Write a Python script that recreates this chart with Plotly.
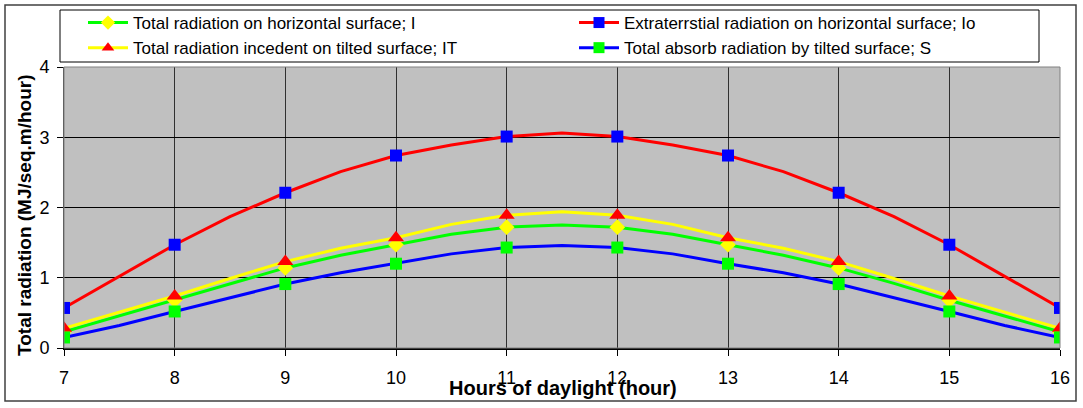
import plotly.graph_objects as go

# ---- data ----
hours = [7, 8, 9, 10, 11, 12, 13, 14, 15, 16]
half_hours = [7, 7.5, 8, 8.5, 9, 9.5, 10, 10.5, 11, 11.5, 12, 12.5, 13, 13.5, 14, 14.5, 15, 15.5, 16]

Io_pts = [0.57, 1.47, 2.21, 2.74, 3.01, 3.01, 2.74, 2.21, 1.47, 0.57]
I_pts = [0.23, 0.68, 1.14, 1.47, 1.72, 1.72, 1.47, 1.14, 0.68, 0.23]
IT_pts = [0.28, 0.74, 1.23, 1.57, 1.89, 1.89, 1.57, 1.23, 0.74, 0.28]
S_pts = [0.15, 0.52, 0.91, 1.20, 1.43, 1.43, 1.20, 0.91, 0.52, 0.15]

Io_curve = [0.57, 1.02, 1.47, 1.87, 2.21, 2.51, 2.74, 2.89, 3.01, 3.06, 3.01, 2.89, 2.74, 2.51, 2.21, 1.87, 1.47, 1.02, 0.57]
I_curve = [0.23, 0.46, 0.68, 0.92, 1.14, 1.32, 1.47, 1.62, 1.72, 1.75, 1.72, 1.62, 1.47, 1.32, 1.14, 0.92, 0.68, 0.46, 0.23]
IT_curve = [0.28, 0.51, 0.74, 0.99, 1.23, 1.42, 1.57, 1.76, 1.89, 1.94, 1.89, 1.76, 1.57, 1.42, 1.23, 0.99, 0.74, 0.51, 0.28]
S_curve = [0.15, 0.32, 0.52, 0.72, 0.91, 1.07, 1.20, 1.34, 1.43, 1.46, 1.43, 1.34, 1.20, 1.07, 0.91, 0.72, 0.52, 0.32, 0.15]

names = [
    "Total radiation on horizontal surface; I",
    "Extraterrstial radiation on horizontal surface; Io",
    "Total radiation incedent on tilted surface; IT",
    "Total absorb radiation by tilted surface; S",
]
x_ticks = [7, 8, 9, 10, 11, 12, 13, 14, 15, 16]
y_ticks = [0, 1, 2, 3, 4]

FONT = "Liberation Sans, Arial, sans-serif"

series = [
    # name, curve, points, line color, marker symbol, marker color, marker size
    (names[0], I_curve, I_pts, "#00FF00", "diamond", "#FFFF00", 12),
    (names[1], Io_curve, Io_pts, "#FF0000", "square", "#0000FF", 12),
    (names[2], IT_curve, IT_pts, "#FFFF00", "triangle-up", "#FF0000", 14),
    (names[3], S_curve, S_pts, "#0000FF", "square", "#00FF00", 12),
]

fig = go.Figure()

# lines
for name, curve, pts, lc, sym, mc, ms in [series[1], series[0], series[2], series[3]]:
    fig.add_trace(go.Scatter(x=half_hours, y=curve, mode="lines",
                             line=dict(color=lc, width=3), showlegend=False,
                             hoverinfo="skip"))
# markers
for name, curve, pts, lc, sym, mc, ms in [series[0], series[2], series[1], series[3]]:
    fig.add_trace(go.Scatter(x=hours, y=pts, mode="markers",
                             marker=dict(symbol=sym, color=mc, size=ms, line=dict(width=0)),
                             showlegend=False, name=name))
# legend entries
for name, curve, pts, lc, sym, mc, ms in series:
    fig.add_trace(go.Scatter(x=[None], y=[None], mode="lines+markers", name=name,
                             line=dict(color=lc, width=3),
                             marker=dict(symbol=sym, color=mc, size=11, line=dict(width=0))))

L, R, T, B = 64, 23, 67, 60
W, H = 1083, 408
pw, ph = W - L - R, H - T - B

def px(x):
    return (x - L) / pw

def py(y):
    return (H - B - y) / ph

fig.update_layout(
    width=W, height=H,
    margin=dict(l=L, r=R, t=T, b=B, pad=0, autoexpand=False),
    paper_bgcolor="white",
    plot_bgcolor="#C0C0C0",
    font=dict(family=FONT, size=16, color="black"),
    legend=dict(orientation="h", xref="container", yref="container",
                x=83 / W, y=1 - 5 / H, xanchor="left", yanchor="top",
                bgcolor="rgba(0,0,0,0)", borderwidth=0,
                font=dict(size=17, family=FONT), entrywidth=436, entrywidthmode="pixels",
                traceorder="normal", tracegroupgap=0, itemwidth=40),
    shapes=[
        dict(type="rect", xref="paper", yref="paper",
             x0=px(5), x1=px(1076), y0=py(5), y1=py(401),
             line=dict(color="#404040", width=1.5), fillcolor="rgba(0,0,0,0)", layer="below"),
        dict(type="rect", xref="paper", yref="paper",
             x0=px(60), x1=px(1039), y0=py(10), y1=py(62),
             line=dict(color="black", width=1), fillcolor="white", layer="above"),
    ],
    annotations=[
        dict(text="<b>Hours of daylight (hour)</b>", xref="paper", yref="paper",
             x=px(563), y=py(388), showarrow=False, font=dict(size=20, family=FONT),
             xanchor="center", yanchor="middle"),
        dict(text="<b>Total radiation (MJ/seq.m/hour)</b>", xref="paper", yref="paper",
             x=px(24), y=py(215), showarrow=False, textangle=-90,
             font=dict(size=19, family=FONT), xanchor="center", yanchor="middle"),
    ],
)

fig.update_xaxes(range=[7, 16], tickvals=x_ticks, ticktext=[str(v) for v in x_ticks],
                 showgrid=True, gridcolor="#303030", gridwidth=1,
                 ticks="outside", ticklen=6, tickcolor="black", ticklabelstandoff=7,
                 showline=True, linecolor="black", linewidth=1.5, mirror=False,
                 zeroline=False, tickfont=dict(size=18))
fig.update_yaxes(range=[0, 4], tickvals=y_ticks,
                 showgrid=True, gridcolor="black", gridwidth=1,
                 ticks="outside", ticklen=6, tickcolor="black", ticklabelstandoff=4,
                 showline=True, linecolor="#404040", linewidth=1, mirror=False,
                 zeroline=False, tickfont=dict(size=18))

# plot area outline (top/right)
fig.add_shape(type="rect", xref="paper", yref="paper", x0=0, x1=1, y0=0, y1=1,
              line=dict(color="#808080", width=1), fillcolor="rgba(0,0,0,0)", layer="above")

fig.write_html("out.html")
